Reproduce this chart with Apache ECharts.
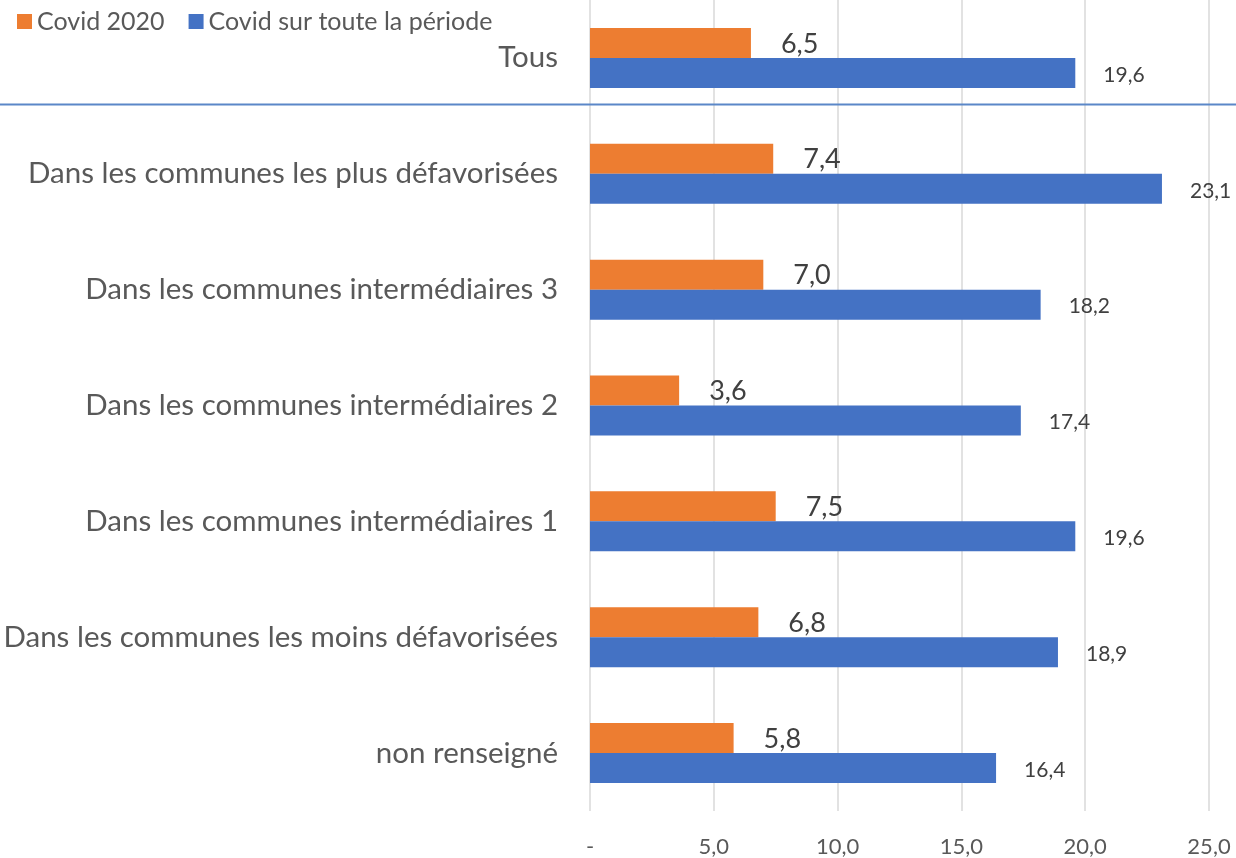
<!DOCTYPE html>
<html>
<head>
<meta charset="utf-8">
<script src="https://cdn.jsdelivr.net/npm/echarts@6/dist/echarts.min.js"></script>
<style>html,body{margin:0;padding:0;background:#fff}#c{width:1236px;height:858px}</style>
</head>
<body>
<div id="c"></div>
<script>
const categories = ["Tous", "Dans les communes les plus défavorisées", "Dans les communes intermédiaires 3", "Dans les communes intermédiaires 2", "Dans les communes intermédiaires 1", "Dans les communes les moins défavorisées", "non renseigné"];
const covid2020 = [6.5, 7.4, 7.0, 3.6, 7.5, 6.8, 5.8];
const covidPeriode = [19.6, 23.1, 18.2, 17.4, 19.6, 18.9, 16.4];
const seriesNames = ["Covid 2020", "Covid sur toute la période"];
const xTicks = [0, 5, 10, 15, 20, 25];

const FONT = "Lato";
const fmt = v => v.toFixed(1).replace('.', ',');
const chart = echarts.init(document.getElementById('c'), null, {renderer: 'canvas'});
chart.setOption({
  animation: false,
  textStyle: {fontFamily: FONT},
  legend: {
    left: 12, top: 4, itemWidth: 15, itemHeight: 15, itemGap: 24,
    icon: 'rect',
    textStyle: {fontSize: 25, color: '#595959', fontFamily: FONT},
    data: seriesNames
  },
  grid: {left: 590, right: 27, top: 0, bottom: 45, containLabel: false},
  xAxis: {
    type: 'value', min: xTicks[0], max: xTicks[xTicks.length - 1], interval: 5,
    axisLine: {show: false}, axisTick: {show: false},
    splitLine: {lineStyle: {color: '#D9D9D9', width: 1.5}},
    axisLabel: {fontSize: 22, color: '#595959', margin: 25, fontFamily: FONT,
      formatter: v => v === 0 ? '-' : fmt(v)}
  },
  yAxis: {
    type: 'category', data: categories, inverse: true,
    axisLine: {show: false}, axisTick: {show: false},
    axisLabel: {fontSize: 29.5, color: '#595959', margin: 32, fontFamily: FONT}
  },
  series: [
    {
      name: seriesNames[0], type: 'bar', data: covid2020, barWidth: 30, barGap: '0%',
      itemStyle: {color: '#ED7D31'},
      label: {show: true, position: 'right', distance: 30, offset: [0, 1], fontSize: 27, color: '#404040', fontFamily: FONT,
        formatter: p => fmt(p.value)}
    },
    {
      name: seriesNames[1], type: 'bar', data: covidPeriode, barWidth: 30, barGap: '0%',
      itemStyle: {color: '#4472C4'},
      label: {show: true, position: 'right', distance: 28, offset: [0, 2], fontSize: 21, color: '#404040', fontFamily: FONT,
        formatter: p => fmt(p.value)}
    }
  ],
  graphic: [{
    type: 'line', shape: {x1: 0, y1: 104.5, x2: 1236, y2: 104.5},
    style: {stroke: '#5B87C8', lineWidth: 2}, z: 10
  }]
});
</script>
</body>
</html>
